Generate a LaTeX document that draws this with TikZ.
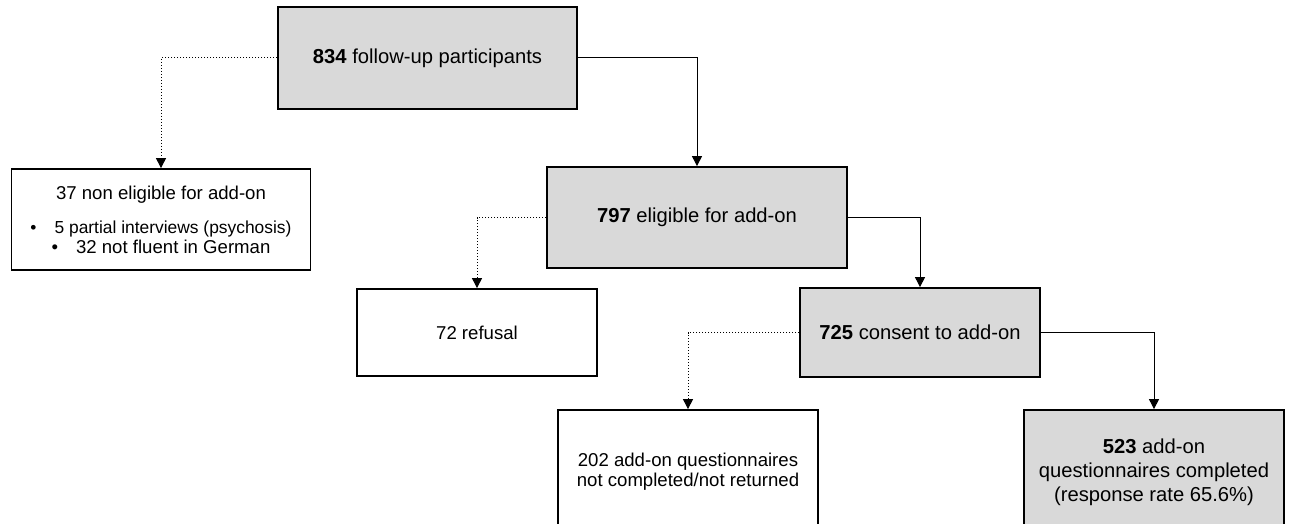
\documentclass[tikz,border=0pt]{standalone}
\usepackage{fontspec}
\setmainfont{Liberation Sans}
\usepackage{xcolor}
\usetikzlibrary{arrows.meta, positioning}
\definecolor{keptbg}{rgb}{0.85,0.85,0.85}

\begin{document}
\begin{tikzpicture}[x=0.5pt, y=-0.5pt,
    box/.style={rectangle, draw, line width=0.9pt, align=center, inner sep=2pt},
    keptbox/.style={box, fill=keptbg, font=\fontsize{10.1}{12}\selectfont},
    dropbox/.style={box, fill=white, font=\fontsize{9.3}{10}\selectfont},
    arrow/.style={-{Triangle[length=5pt, width=5pt]}, line width=0.5pt},
    droparrow/.style={arrow, densely dotted}
]
\useasboundingbox (0,0) rectangle (1290,524);
\node[keptbox, minimum width=149.5pt, minimum height=51pt] (participants) at (427.5,58) {\textbf{834} follow-up participants};
\node[dropbox, minimum width=149.5pt, minimum height=50.5pt] (noneligible) at (161,219.5) {37 non eligible for add-on\\[7pt]\fontsize{8.7}{10}\selectfont\textbullet\hspace{9pt}5 partial interviews (psychosis)\\\textbullet\hspace{9pt}32 not fluent in German};
\node[keptbox, minimum width=150pt, minimum height=50.5pt] (eligible) at (697,217.5) {\textbf{797} eligible for add-on};
\node[dropbox, minimum width=120pt, minimum height=43.5pt] (refusal) at (477,332.5) {72 refusal};
\node[keptbox, minimum width=120pt, minimum height=44.5pt] (consent) at (920,332.5) {\textbf{725} consent to add-on};
\node[dropbox, minimum width=130pt, minimum height=62pt] (notcompleted) at (688,472) {202 add-on questionnaires\\not completed/not returned};
\node[keptbox, minimum width=130pt, minimum height=62pt] (completed) at (1154,472) {\textbf{523} add-on\\questionnaires completed\\(response rate 65.6\%)};

\draw[droparrow] (participants.west) -| (noneligible.north);
\draw[arrow] (participants.east) -| (eligible.north);
\draw[droparrow] (eligible.west) -| (refusal.north);
\draw[arrow] (eligible.east) -| (consent.north);
\draw[droparrow] (consent.west) -| (notcompleted.north);
\draw[arrow] (consent.east) -| (completed.north);
\end{tikzpicture}
\end{document}
